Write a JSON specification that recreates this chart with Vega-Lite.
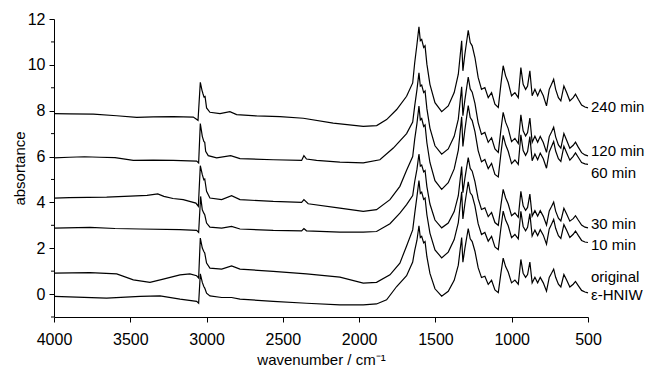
{
"$schema": "https://vega.github.io/schema/vega-lite/v6.json",
"width": 534, "height": 298,
"autosize": {"type": "none"},
"padding": {"left": 54, "top": 19, "right": 59, "bottom": 53},
"config": {"view": {"stroke": null}, "font": "Liberation Sans"},
"layer": [
{
"data": {"values": [
{"s":"240","w":4000,"a":7.87},{"s":"240","w":3900,"a":7.86},{"s":"240","w":3742,"a":7.85},{"s":"240","w":3589,"a":7.78},{"s":"240","w":3458,"a":7.71},{"s":"240","w":3350,"a":7.73},{"s":"240","w":3218,"a":7.74},{"s":"240","w":3087,"a":7.72},{"s":"240","w":3056,"a":7.58},{"s":"240","w":3041,"a":9.24},{"s":"240","w":3030,"a":8.89},{"s":"240","w":3024,"a":8.75},{"s":"240","w":3017,"a":8.6},{"s":"240","w":3010,"a":8.62},{"s":"240","w":3000,"a":8.12},{"s":"240","w":2978,"a":7.93},{"s":"240","w":2912,"a":7.87},{"s":"240","w":2847,"a":7.96},{"s":"240","w":2803,"a":7.83},{"s":"240","w":2672,"a":7.77},{"s":"240","w":2519,"a":7.74},{"s":"240","w":2366,"a":7.67},{"s":"240","w":2170,"a":7.46},{"s":"240","w":1973,"a":7.32},{"s":"240","w":1885,"a":7.35},{"s":"240","w":1820,"a":7.61},{"s":"240","w":1754,"a":8.05},{"s":"240","w":1689,"a":8.63},{"s":"240","w":1649,"a":9.21},{"s":"240","w":1636,"a":10.08},
{"s":"240","w":1621,"a":10.9},{"s":"240","w":1608,"a":11.66},{"s":"240","w":1599,"a":11.05},{"s":"240","w":1590,"a":11.11},{"s":"240","w":1577,"a":10.76},{"s":"240","w":1568,"a":10.83},{"s":"240","w":1556,"a":10.03},{"s":"240","w":1536,"a":9.15},{"s":"240","w":1503,"a":8.35},{"s":"240","w":1459,"a":7.96},{"s":"240","w":1416,"a":8.21},{"s":"240","w":1377,"a":8.79},{"s":"240","w":1350,"a":9.59},{"s":"240","w":1337,"a":10.46},{"s":"240","w":1328,"a":11.05},{"s":"240","w":1320,"a":9.74},{"s":"240","w":1307,"a":10.46},{"s":"240","w":1285,"a":11.51},{"s":"240","w":1272,"a":10.97},{"s":"240","w":1259,"a":10.83},{"s":"240","w":1241,"a":10.32},{"s":"240","w":1220,"a":9.45},{"s":"240","w":1198,"a":8.93},{"s":"240","w":1176,"a":9.01},{"s":"240","w":1154,"a":8.57},{"s":"240","w":1132,"a":8.79},{"s":"240","w":1110,"a":8.28},{"s":"240","w":1088,"a":8.14},{"s":"240","w":1071,"a":9.15},{"s":"240","w":1056,"a":9.96},{"s":"240","w":1040,"a":9.52},{"s":"240","w":1023,"a":9.23},{"s":"240","w":1001,"a":8.65},{"s":"240","w":979,"a":8.79},{"s":"240","w":957,"a":8.57},{"s":"240","w":940,"a":9.88},{"s":"240","w":925,"a":9.15},{"s":"240","w":909,"a":8.93},{"s":"240","w":896,"a":9.08},{"s":"240","w":881,"a":9.74},{"s":"240","w":866,"a":8.65},{"s":"240","w":848,"a":8.93},{"s":"240","w":830,"a":8.65},{"s":"240","w":813,"a":8.93},{"s":"240","w":793,"a":8.65},{"s":"240","w":772,"a":8.21},{"s":"240","w":754,"a":8.93},{"s":"240","w":739,"a":9.15},{"s":"240","w":725,"a":9.37},{"s":"240","w":712,"a":8.93},{"s":"240","w":694,"a":8.57},{"s":"240","w":678,"a":8.43},{"s":"240","w":658,"a":9.08},{"s":"240","w":640,"a":8.79},{"s":"240","w":619,"a":8.43},{"s":"240","w":597,"a":8.57},{"s":"240","w":582,"a":8.72},{"s":"240","w":564,"a":8.5},{"s":"240","w":542,"a":8.25},{"s":"240","w":520,"a":8.16},{"s":"240","w":500,"a":8.12},

{"s":"120","w":4000,"a":5.94},{"s":"120","w":3900,"a":5.97},{"s":"120","w":3800,"a":5.99},{"s":"120","w":3700,"a":5.97},{"s":"120","w":3600,"a":5.95},{"s":"120","w":3480,"a":5.83},{"s":"120","w":3350,"a":5.84},{"s":"120","w":3218,"a":5.83},{"s":"120","w":3065,"a":5.8},{"s":"120","w":3052,"a":5.72},{"s":"120","w":3041,"a":7.44},{"s":"120","w":3028,"a":6.88},{"s":"120","w":3018,"a":6.66},{"s":"120","w":3012,"a":6.62},{"s":"120","w":3006,"a":6.23},{"s":"120","w":2989,"a":6.04},{"s":"120","w":2934,"a":5.94},{"s":"120","w":2842,"a":6.04},{"s":"120","w":2781,"a":5.91},{"s":"120","w":2563,"a":5.86},{"s":"120","w":2377,"a":5.83},{"s":"120","w":2362,"a":6.04},{"s":"120","w":2345,"a":5.89},{"s":"120","w":2279,"a":5.83},{"s":"120","w":2126,"a":5.76},{"s":"120","w":1973,"a":5.72},{"s":"120","w":1864,"a":5.86},{"s":"120","w":1776,"a":6.37},{"s":"120","w":1689,"a":7.0},{"s":"120","w":1649,"a":7.5},{"s":"120","w":1636,"a":8.2},
{"s":"120","w":1621,"a":8.92},{"s":"120","w":1608,"a":9.65},{"s":"120","w":1599,"a":9.07},{"s":"120","w":1590,"a":9.12},{"s":"120","w":1577,"a":8.79},{"s":"120","w":1568,"a":8.86},{"s":"120","w":1556,"a":8.09},{"s":"120","w":1536,"a":7.24},{"s":"120","w":1503,"a":6.47},{"s":"120","w":1459,"a":6.1},{"s":"120","w":1416,"a":6.33},{"s":"120","w":1377,"a":6.88},{"s":"120","w":1350,"a":7.63},{"s":"120","w":1337,"a":8.47},{"s":"120","w":1328,"a":9.04},{"s":"120","w":1320,"a":7.78},{"s":"120","w":1307,"a":8.47},{"s":"120","w":1285,"a":9.47},{"s":"120","w":1272,"a":8.95},{"s":"120","w":1259,"a":8.81},{"s":"120","w":1241,"a":8.32},{"s":"120","w":1220,"a":7.48},{"s":"120","w":1198,"a":6.97},{"s":"120","w":1176,"a":7.05},{"s":"120","w":1154,"a":6.62},{"s":"120","w":1132,"a":6.82},{"s":"120","w":1110,"a":6.33},{"s":"120","w":1088,"a":6.18},{"s":"120","w":1071,"a":7.15},{"s":"120","w":1056,"a":7.93},{"s":"120","w":1040,"a":7.5},{"s":"120","w":1023,"a":7.22},{"s":"120","w":1001,"a":6.65},{"s":"120","w":979,"a":6.79},{"s":"120","w":957,"a":6.57},{"s":"120","w":940,"a":7.82},{"s":"120","w":925,"a":7.12},{"s":"120","w":909,"a":6.9},{"s":"120","w":896,"a":7.05},{"s":"120","w":881,"a":7.68},{"s":"120","w":866,"a":6.62},{"s":"120","w":848,"a":6.89},{"s":"120","w":830,"a":6.62},{"s":"120","w":813,"a":6.88},{"s":"120","w":793,"a":6.61},{"s":"120","w":772,"a":6.18},{"s":"120","w":754,"a":6.87},{"s":"120","w":739,"a":7.07},{"s":"120","w":725,"a":7.28},{"s":"120","w":712,"a":6.86},{"s":"120","w":694,"a":6.51},{"s":"120","w":678,"a":6.37},{"s":"120","w":658,"a":7.0},{"s":"120","w":640,"a":6.71},{"s":"120","w":619,"a":6.36},{"s":"120","w":597,"a":6.49},{"s":"120","w":582,"a":6.63},{"s":"120","w":564,"a":6.41},{"s":"120","w":542,"a":6.17},{"s":"120","w":520,"a":6.07},{"s":"120","w":500,"a":6.03},

{"s":"60","w":4000,"a":4.19},{"s":"60","w":3900,"a":4.21},{"s":"60","w":3655,"a":4.23},{"s":"60","w":3500,"a":4.27},{"s":"60","w":3390,"a":4.31},{"s":"60","w":3320,"a":4.37},{"s":"60","w":3280,"a":4.26},{"s":"60","w":3220,"a":4.17},{"s":"60","w":3153,"a":4.12},{"s":"60","w":3070,"a":3.97},{"s":"60","w":3054,"a":3.83},{"s":"60","w":3041,"a":5.6},{"s":"60","w":3028,"a":5.21},{"s":"60","w":3018,"a":4.99},{"s":"60","w":3012,"a":5.02},{"s":"60","w":3000,"a":4.48},{"s":"60","w":2978,"a":4.19},{"s":"60","w":2901,"a":4.12},{"s":"60","w":2836,"a":4.29},{"s":"60","w":2781,"a":4.12},{"s":"60","w":2563,"a":4.04},{"s":"60","w":2377,"a":4.0},{"s":"60","w":2362,"a":4.12},{"s":"60","w":2334,"a":3.94},{"s":"60","w":2126,"a":3.75},{"s":"60","w":1973,"a":3.61},{"s":"60","w":1886,"a":3.68},{"s":"60","w":1798,"a":4.12},{"s":"60","w":1733,"a":4.7},{"s":"60","w":1689,"a":5.4},{"s":"60","w":1649,"a":6.0},{"s":"60","w":1636,"a":6.75},
{"s":"60","w":1621,"a":7.45},{"s":"60","w":1608,"a":8.2},{"s":"60","w":1599,"a":7.6},{"s":"60","w":1590,"a":7.66},{"s":"60","w":1577,"a":7.31},{"s":"60","w":1568,"a":7.38},{"s":"60","w":1556,"a":6.6},{"s":"60","w":1536,"a":5.74},{"s":"60","w":1503,"a":4.95},{"s":"60","w":1459,"a":4.57},{"s":"60","w":1416,"a":4.86},{"s":"60","w":1377,"a":5.46},{"s":"60","w":1350,"a":6.28},{"s":"60","w":1337,"a":7.14},{"s":"60","w":1328,"a":7.73},{"s":"60","w":1320,"a":6.44},{"s":"60","w":1307,"a":7.17},{"s":"60","w":1285,"a":8.22},{"s":"60","w":1272,"a":7.7},{"s":"60","w":1259,"a":7.57},{"s":"60","w":1241,"a":7.09},{"s":"60","w":1220,"a":6.26},{"s":"60","w":1198,"a":5.77},{"s":"60","w":1176,"a":5.87},{"s":"60","w":1154,"a":5.47},{"s":"60","w":1132,"a":5.7},{"s":"60","w":1110,"a":5.22},{"s":"60","w":1088,"a":5.11},{"s":"60","w":1071,"a":6.12},{"s":"60","w":1056,"a":6.92},{"s":"60","w":1040,"a":6.51},{"s":"60","w":1023,"a":6.23},{"s":"60","w":1001,"a":5.69},{"s":"60","w":979,"a":5.85},{"s":"60","w":957,"a":5.66},{"s":"60","w":940,"a":6.95},{"s":"60","w":925,"a":6.26},{"s":"60","w":909,"a":6.05},{"s":"60","w":896,"a":6.22},{"s":"60","w":881,"a":6.87},{"s":"60","w":866,"a":5.82},{"s":"60","w":848,"a":6.11},{"s":"60","w":830,"a":5.86},{"s":"60","w":813,"a":6.15},{"s":"60","w":793,"a":5.9},{"s":"60","w":772,"a":5.49},{"s":"60","w":754,"a":6.2},{"s":"60","w":739,"a":6.44},{"s":"60","w":725,"a":6.66},{"s":"60","w":712,"a":6.24},{"s":"60","w":694,"a":5.91},{"s":"60","w":678,"a":5.79},{"s":"60","w":658,"a":6.45},{"s":"60","w":640,"a":6.17},{"s":"60","w":619,"a":5.84},{"s":"60","w":597,"a":6.01},{"s":"60","w":582,"a":6.16},{"s":"60","w":564,"a":5.97},{"s":"60","w":542,"a":5.74},{"s":"60","w":520,"a":5.68},{"s":"60","w":500,"a":5.66},

{"s":"30","w":4000,"a":2.88},{"s":"30","w":3764,"a":2.91},{"s":"30","w":3600,"a":2.86},{"s":"30","w":3436,"a":2.84},{"s":"30","w":3174,"a":2.81},{"s":"30","w":3065,"a":2.78},{"s":"30","w":3052,"a":2.69},{"s":"30","w":3039,"a":4.26},{"s":"30","w":3028,"a":3.68},{"s":"30","w":3018,"a":3.53},{"s":"30","w":3012,"a":3.46},{"s":"30","w":3000,"a":3.1},{"s":"30","w":2978,"a":2.92},{"s":"30","w":2901,"a":2.88},{"s":"30","w":2836,"a":2.95},{"s":"30","w":2781,"a":2.84},{"s":"30","w":2563,"a":2.78},{"s":"30","w":2377,"a":2.76},{"s":"30","w":2362,"a":2.86},{"s":"30","w":2345,"a":2.76},{"s":"30","w":2126,"a":2.7},{"s":"30","w":1973,"a":2.7},{"s":"30","w":1886,"a":2.73},{"s":"30","w":1798,"a":3.07},{"s":"30","w":1733,"a":3.53},{"s":"30","w":1689,"a":3.9},{"s":"30","w":1649,"a":4.3},{"s":"30","w":1636,"a":4.9},
{"s":"30","w":1621,"a":5.45},{"s":"30","w":1608,"a":6.11},{"s":"30","w":1599,"a":5.58},{"s":"30","w":1590,"a":5.63},{"s":"30","w":1577,"a":5.33},{"s":"30","w":1568,"a":5.39},{"s":"30","w":1556,"a":4.69},{"s":"30","w":1536,"a":3.93},{"s":"30","w":1503,"a":3.23},{"s":"30","w":1459,"a":2.89},{"s":"30","w":1416,"a":3.1},{"s":"30","w":1377,"a":3.6},{"s":"30","w":1350,"a":4.29},{"s":"30","w":1337,"a":5.05},{"s":"30","w":1328,"a":5.56},{"s":"30","w":1320,"a":4.42},{"s":"30","w":1307,"a":5.05},{"s":"30","w":1285,"a":5.95},{"s":"30","w":1272,"a":5.48},{"s":"30","w":1259,"a":5.36},{"s":"30","w":1241,"a":4.91},{"s":"30","w":1220,"a":4.16},{"s":"30","w":1198,"a":3.69},{"s":"30","w":1176,"a":3.76},{"s":"30","w":1154,"a":3.38},{"s":"30","w":1132,"a":3.56},{"s":"30","w":1110,"a":3.12},{"s":"30","w":1088,"a":3.0},{"s":"30","w":1071,"a":3.87},{"s":"30","w":1056,"a":4.57},{"s":"30","w":1040,"a":4.19},{"s":"30","w":1023,"a":3.93},{"s":"30","w":1001,"a":3.42},{"s":"30","w":979,"a":3.54},{"s":"30","w":957,"a":3.35},{"s":"30","w":940,"a":4.48},{"s":"30","w":925,"a":3.85},{"s":"30","w":909,"a":3.65},{"s":"30","w":896,"a":3.78},{"s":"30","w":881,"a":4.36},{"s":"30","w":866,"a":3.4},{"s":"30","w":848,"a":3.64},{"s":"30","w":830,"a":3.4},{"s":"30","w":813,"a":3.64},{"s":"30","w":793,"a":3.39},{"s":"30","w":772,"a":3.01},{"s":"30","w":754,"a":3.63},{"s":"30","w":739,"a":3.82},{"s":"30","w":725,"a":4.01},{"s":"30","w":712,"a":3.62},{"s":"30","w":694,"a":3.31},{"s":"30","w":678,"a":3.19},{"s":"30","w":658,"a":3.74},{"s":"30","w":640,"a":3.49},{"s":"30","w":619,"a":3.18},{"s":"30","w":597,"a":3.29},{"s":"30","w":582,"a":3.42},{"s":"30","w":564,"a":3.23},{"s":"30","w":542,"a":3.01},{"s":"30","w":520,"a":2.92},{"s":"30","w":500,"a":2.89},

{"s":"10","w":4000,"a":0.91},{"s":"10","w":3764,"a":0.94},{"s":"10","w":3589,"a":0.88},{"s":"10","w":3480,"a":0.62},{"s":"10","w":3371,"a":0.51},{"s":"10","w":3284,"a":0.65},{"s":"10","w":3174,"a":0.84},{"s":"10","w":3109,"a":0.88},{"s":"10","w":3065,"a":0.8},{"s":"10","w":3052,"a":0.7},{"s":"10","w":3041,"a":2.44},{"s":"10","w":3028,"a":2.01},{"s":"10","w":3018,"a":1.86},{"s":"10","w":3012,"a":1.79},{"s":"10","w":3000,"a":1.35},{"s":"10","w":2978,"a":1.13},{"s":"10","w":2901,"a":1.09},{"s":"10","w":2836,"a":1.23},{"s":"10","w":2781,"a":1.09},{"s":"10","w":2563,"a":0.99},{"s":"10","w":2345,"a":0.88},{"s":"10","w":2126,"a":0.74},{"s":"10","w":1973,"a":0.48},{"s":"10","w":1886,"a":0.51},{"s":"10","w":1798,"a":0.84},{"s":"10","w":1733,"a":1.35},{"s":"10","w":1689,"a":2.1},{"s":"10","w":1649,"a":2.8},{"s":"10","w":1636,"a":3.5},
{"s":"10","w":1621,"a":4.26},{"s":"10","w":1608,"a":4.95},{"s":"10","w":1599,"a":4.39},{"s":"10","w":1590,"a":4.45},{"s":"10","w":1577,"a":4.13},{"s":"10","w":1568,"a":4.19},{"s":"10","w":1556,"a":3.46},{"s":"10","w":1536,"a":2.66},{"s":"10","w":1503,"a":1.93},{"s":"10","w":1459,"a":1.58},{"s":"10","w":1416,"a":1.83},{"s":"10","w":1377,"a":2.38},{"s":"10","w":1350,"a":3.12},{"s":"10","w":1337,"a":3.93},{"s":"10","w":1328,"a":4.46},{"s":"10","w":1320,"a":3.28},{"s":"10","w":1307,"a":3.94},{"s":"10","w":1285,"a":4.9},{"s":"10","w":1272,"a":4.42},{"s":"10","w":1259,"a":4.3},{"s":"10","w":1241,"a":3.85},{"s":"10","w":1220,"a":3.07},{"s":"10","w":1198,"a":2.6},{"s":"10","w":1176,"a":2.69},{"s":"10","w":1154,"a":2.31},{"s":"10","w":1132,"a":2.52},{"s":"10","w":1110,"a":2.06},{"s":"10","w":1088,"a":1.94},{"s":"10","w":1071,"a":2.87},{"s":"10","w":1056,"a":3.62},{"s":"10","w":1040,"a":3.23},{"s":"10","w":1023,"a":2.98},{"s":"10","w":1001,"a":2.46},{"s":"10","w":979,"a":2.6},{"s":"10","w":957,"a":2.41},{"s":"10","w":940,"a":3.61},{"s":"10","w":925,"a":2.95},{"s":"10","w":909,"a":2.76},{"s":"10","w":896,"a":2.91},{"s":"10","w":881,"a":3.51},{"s":"10","w":866,"a":2.53},{"s":"10","w":848,"a":2.79},{"s":"10","w":830,"a":2.55},{"s":"10","w":813,"a":2.81},{"s":"10","w":793,"a":2.57},{"s":"10","w":772,"a":2.18},{"s":"10","w":754,"a":2.84},{"s":"10","w":739,"a":3.05},{"s":"10","w":725,"a":3.26},{"s":"10","w":712,"a":2.87},{"s":"10","w":694,"a":2.55},{"s":"10","w":678,"a":2.43},{"s":"10","w":658,"a":3.03},{"s":"10","w":640,"a":2.78},{"s":"10","w":619,"a":2.47},{"s":"10","w":597,"a":2.61},{"s":"10","w":582,"a":2.75},{"s":"10","w":564,"a":2.56},{"s":"10","w":542,"a":2.34},{"s":"10","w":520,"a":2.27},{"s":"10","w":500,"a":2.25},

{"s":"0","w":4000,"a":-0.1},{"s":"0","w":3655,"a":-0.18},{"s":"0","w":3436,"a":-0.1},{"s":"0","w":3305,"a":-0.08},{"s":"0","w":3174,"a":-0.22},{"s":"0","w":3065,"a":-0.32},{"s":"0","w":3052,"a":-0.4},{"s":"0","w":3041,"a":0.88},{"s":"0","w":3028,"a":0.51},{"s":"0","w":3018,"a":0.33},{"s":"0","w":3012,"a":0.26},{"s":"0","w":3000,"a":0.04},{"s":"0","w":2978,"a":-0.08},{"s":"0","w":2901,"a":-0.15},{"s":"0","w":2836,"a":-0.15},{"s":"0","w":2781,"a":-0.22},{"s":"0","w":2563,"a":-0.32},{"s":"0","w":2345,"a":-0.4},{"s":"0","w":2126,"a":-0.47},{"s":"0","w":1973,"a":-0.47},{"s":"0","w":1886,"a":-0.43},{"s":"0","w":1820,"a":-0.25},{"s":"0","w":1754,"a":0.33},{"s":"0","w":1689,"a":0.8},{"s":"0","w":1649,"a":1.4},{"s":"0","w":1636,"a":1.9},
{"s":"0","w":1621,"a":2.35},{"s":"0","w":1608,"a":2.98},{"s":"0","w":1599,"a":2.47},{"s":"0","w":1590,"a":2.52},{"s":"0","w":1577,"a":2.23},{"s":"0","w":1568,"a":2.29},{"s":"0","w":1556,"a":1.63},{"s":"0","w":1536,"a":0.9},{"s":"0","w":1503,"a":0.23},{"s":"0","w":1459,"a":-0.09},{"s":"0","w":1416,"a":0.12},{"s":"0","w":1377,"a":0.6},{"s":"0","w":1350,"a":1.26},{"s":"0","w":1337,"a":1.99},{"s":"0","w":1328,"a":2.47},{"s":"0","w":1320,"a":1.39},{"s":"0","w":1307,"a":1.99},{"s":"0","w":1285,"a":2.86},{"s":"0","w":1272,"a":2.41},{"s":"0","w":1259,"a":2.29},{"s":"0","w":1241,"a":1.87},{"s":"0","w":1220,"a":1.15},{"s":"0","w":1198,"a":0.72},{"s":"0","w":1176,"a":0.78},{"s":"0","w":1154,"a":0.42},{"s":"0","w":1132,"a":0.6},{"s":"0","w":1110,"a":0.18},{"s":"0","w":1088,"a":0.06},{"s":"0","w":1071,"a":0.9},{"s":"0","w":1056,"a":1.57},{"s":"0","w":1040,"a":1.2},{"s":"0","w":1023,"a":0.96},{"s":"0","w":1001,"a":0.49},{"s":"0","w":979,"a":0.61},{"s":"0","w":957,"a":0.43},{"s":"0","w":940,"a":1.51},{"s":"0","w":925,"a":0.91},{"s":"0","w":909,"a":0.73},{"s":"0","w":896,"a":0.85},{"s":"0","w":881,"a":1.4},{"s":"0","w":866,"a":0.49},{"s":"0","w":848,"a":0.73},{"s":"0","w":830,"a":0.49},{"s":"0","w":813,"a":0.73},{"s":"0","w":793,"a":0.49},{"s":"0","w":772,"a":0.13},{"s":"0","w":754,"a":0.73},{"s":"0","w":739,"a":0.91},{"s":"0","w":725,"a":1.09},{"s":"0","w":712,"a":0.73},{"s":"0","w":694,"a":0.43},{"s":"0","w":678,"a":0.31},{"s":"0","w":658,"a":0.85},{"s":"0","w":640,"a":0.61},{"s":"0","w":619,"a":0.31},{"s":"0","w":597,"a":0.43},{"s":"0","w":582,"a":0.55},{"s":"0","w":564,"a":0.37},{"s":"0","w":542,"a":0.16},{"s":"0","w":520,"a":0.09},{"s":"0","w":500,"a":0.05}
]},
"mark": {"type": "line", "color": "black", "strokeWidth": 1.2, "interpolate": "linear"},
"encoding": {
"x": {"field": "w", "type": "quantitative",
"scale": {"domain": [500, 4000], "reverse": true, "nice": false, "zero": false},
"axis": {"title": "wavenumber / cm⁻¹", "values": [4000,3750,3500,3250,3000,2750,2500,2250,2000,1750,1500,1250,1000,750,500],
"labelExpr": "datum.value % 500 === 0 ? format(datum.value, 'd') : ''", "labelOverlap": false,
"tickSize": {"condition": {"test": "datum.value % 500 === 0", "value": 5}, "value": 3},
"grid": false, "domainColor": "black", "tickColor": "black", "labelColor": "black", "titleColor": "black",
"labelFont": "Liberation Sans", "labelFontSize": 16, "labelPadding": 9, "labelFlush": false,
"titleFont": "Liberation Sans", "titleFontSize": 15, "titleFontWeight": "normal", "titlePadding": 5}},
"y": {"field": "a", "type": "quantitative",
"scale": {"domain": [-1, 12], "nice": false, "zero": false},
"axis": {"title": "absortance", "values": [0, 2, 4, 6, 8, 10, 12], "format": "d", "labelOverlap": false,
"tickSize": 5,
"grid": false, "domainColor": "black", "tickColor": "black", "labelColor": "black", "titleColor": "black",
"labelFont": "Liberation Sans", "labelFontSize": 16, "labelPadding": 4, "labelFlush": false,
"titleFont": "Liberation Sans", "titleFontSize": 15, "titleFontWeight": "normal", "titlePadding": 0}},
"detail": {"field": "s"}
}
},
{
"data": {"values": [{"w": 4000, "a": -1}, {"w": 4000, "a": 1}, {"w": 4000, "a": 3}, {"w": 4000, "a": 5}, {"w": 4000, "a": 7}, {"w": 4000, "a": 9}, {"w": 4000, "a": 11}]},
"mark": {"type": "rule", "color": "black", "strokeWidth": 1, "xOffset": -3, "x2Offset": 0},
"encoding": {
"x": {"field": "w", "type": "quantitative"},
"x2": {"field": "w"},
"y": {"field": "a", "type": "quantitative"}
}
},
{
"data": {"values": [
{"t": "240 min", "w": 500, "a": 8.15},
{"t": "120 min", "w": 500, "a": 6.25},
{"t": "60 min", "w": 500, "a": 5.3},
{"t": "30 min", "w": 500, "a": 3.05},
{"t": "10 min", "w": 500, "a": 2.15},
{"t": "original", "w": 500, "a": 0.75},
{"t": "ε-HNIW", "w": 500, "a": -0.05}
]},
"mark": {"type": "text", "align": "left", "baseline": "middle", "dx": 3, "font": "Liberation Sans", "fontSize": 15, "color": "black"},
"encoding": {
"x": {"field": "w", "type": "quantitative"},
"y": {"field": "a", "type": "quantitative"},
"text": {"field": "t"}
}
}
]
}
